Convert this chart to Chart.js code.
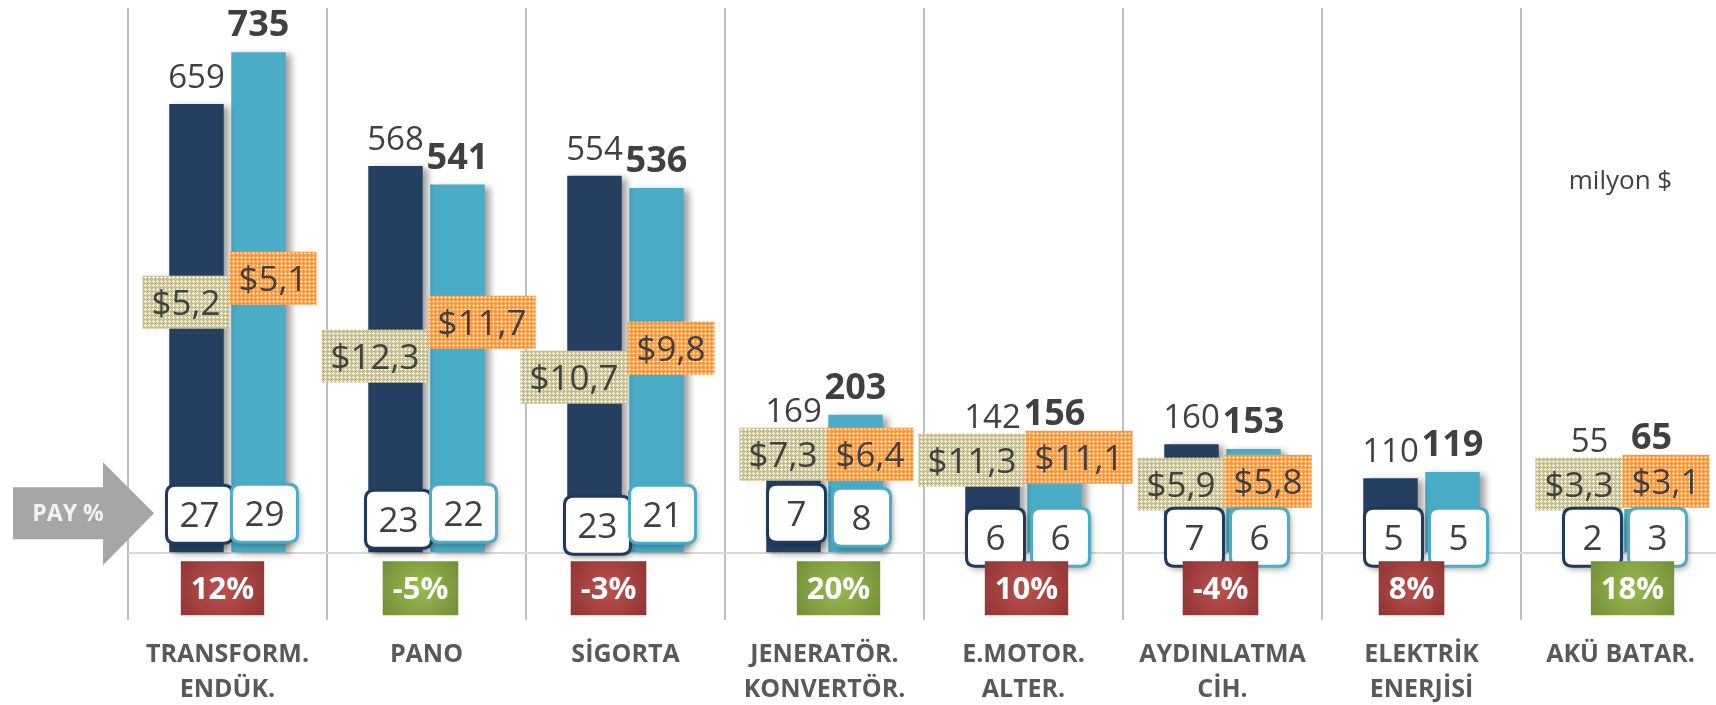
<!DOCTYPE html>
<html><head><meta charset="utf-8">
<script src="https://cdn.jsdelivr.net/npm/chart.js@4"></script>
<style>html,body{margin:0;padding:0;background:#fff;overflow:hidden}#wrap{position:relative;width:1720px;height:705px}</style>
</head><body><div id="wrap"><canvas id="c"></canvas></div>
<script>
// ---------- data ----------
const categories = [['TRANSFORM.','ENDÜK.'],'PANO','SİGORTA',['JENERATÖR.','KONVERTÖR.'],['E.MOTOR.','ALTER.'],['AYDINLATMA','CİH.'],['ELEKTRİK','ENERJİSİ'],'AKÜ BATAR.'];
const seriesNames = ['Önceki yıl','Son yıl'];
const salesPrev = [659,568,554,169,142,160,110,55];
const salesCurr = [735,541,536,203,156,153,119,65];
const pricePrev = [5.2,12.3,10.7,7.3,11.3,5.9,null,3.3];
const priceCurr = [5.1,11.7,9.8,6.4,11.1,5.8,null,3.1];
const sharePrev = [27,23,23,7,6,7,5,2];
const shareCurr = [29,22,21,8,6,6,5,3];
const growthPct = [12,-5,-3,20,10,-4,8,18];
const growthTone = ['red','green','red','green','red','red','red','green'];
const shareTitle = 'PAY %';
const unitLabel = 'milyon $';

// ---------- layout of annotation boxes (px, relative to the zero line) ----------
const priceLift = [[251,275],[197,231],[176,205],[99,99],[93,96],[69,72],[0,0],[69,72]];
const shareLift = [[39,40],[34,40],[28,39],[40,36],[16,16],[16,16],[16,16],[16,16]];
const growthShift = [-5,-6,-17,14,3,-2,-10,12];

const FONT = '"Open Sans", sans-serif';
const TXT = '#404040';
const C_DARK = '#253f60', C_LIGHT = '#4aacc6';

function makePattern(base){
  const c = document.createElement('canvas'); c.width = 4; c.height = 4;
  const g = c.getContext('2d');
  g.fillStyle = base; g.fillRect(0,0,4,4);
  g.fillStyle = 'rgba(255,255,255,0.8)';
  g.fillRect(1,0,1,1); g.fillRect(0,1,3,1); g.fillRect(1,2,1,1);
  return c;
}
const patTan = makePattern('#c4bd97');
const patOrange = makePattern('#f79646');

function rr(ctx,x,y,w,h,r){
  ctx.beginPath();
  ctx.moveTo(x+r,y); ctx.lineTo(x+w-r,y); ctx.quadraticCurveTo(x+w,y,x+w,y+r);
  ctx.lineTo(x+w,y+h-r); ctx.quadraticCurveTo(x+w,y+h,x+w-r,y+h);
  ctx.lineTo(x+r,y+h); ctx.quadraticCurveTo(x,y+h,x,y+h-r);
  ctx.lineTo(x,y+r); ctx.quadraticCurveTo(x,y,x+r,y); ctx.closePath();
}
const fmtPrice = v => '$' + v.toFixed(1).replace('.',',');

const annot = {
  id:'annot',
  beforeDatasetsDraw(chart){
    const ctx = chart.ctx; ctx.save();
    ctx.shadowColor='rgba(0,0,0,0.38)'; ctx.shadowBlur=7; ctx.shadowOffsetX=5; ctx.shadowOffsetY=2;
  },
  afterDatasetsDraw(chart){
    const ctx = chart.ctx; ctx.restore();
    const area = chart.chartArea;
    const y0 = chart.scales.y.getPixelForValue(0);
    const m0 = chart.getDatasetMeta(0).data, m1 = chart.getDatasetMeta(1).data;
    const prices = [pricePrev, priceCurr];
    const shares = [sharePrev, shareCurr];
    const metas = [m0, m1];
    const PH = 53;

    // price boxes geometry
    const pboxes = categories.map((c,j)=>{
      const cx = (m0[j].x + m1[j].x)/2 + 2;
      return [0,1].map(s=>{
        const v = prices[s][j]; if (v==null) return null;
        const t = fmtPrice(v);
        ctx.font = '35px ' + FONT;
        const w = ctx.measureText(t).width + 18;
        const cy = y0 - priceLift[j][s];
        return {t, w, x: s===0 ? cx - w : cx, y: cy - PH/2, cy};
      });
    });

    // value labels above bars
    ctx.textAlign='center'; ctx.textBaseline='alphabetic'; ctx.fillStyle=TXT;
    [salesPrev, salesCurr].forEach((arr,s)=>{
      ctx.font = (s===0 ? '33px ' : 'bold 36px ') + FONT;
      arr.forEach((v,j)=>{
        const b = metas[s][j];
        let by = b.y - 16;
        const bx = pboxes[j][s];
        if (bx) by = Math.min(by, bx.y - 6);
        ctx.fillText(String(v), b.x, by);
      });
    });

    // price boxes
    pboxes.forEach((pair)=>{
      pair.forEach((bx,s)=>{
        if (!bx) return;
        ctx.fillStyle = ctx.createPattern(s===0 ? patTan : patOrange, 'repeat');
        ctx.fillRect(bx.x, bx.y, bx.w, PH);
        ctx.fillStyle = TXT; ctx.font = '35px ' + FONT; ctx.textAlign='center'; ctx.textBaseline='alphabetic';
        ctx.fillText(bx.t, bx.x + bx.w/2, bx.cy + 0.357*35);
      });
    });

    // share boxes
    [0,1].forEach(s=>{
      shares[s].forEach((v,j)=>{
        const b = metas[s][j];
        const t = String(v);
        ctx.font = '35px ' + FONT;
        const w = Math.max(58, ctx.measureText(t).width + 26), h = 58;
        const cx = b.x + (s===0 ? 3 : 6), cy = y0 - shareLift[j][s];
        ctx.save();
        ctx.shadowColor='rgba(0,0,0,0.35)'; ctx.shadowBlur=6; ctx.shadowOffsetX=2; ctx.shadowOffsetY=3;
        rr(ctx, cx - w/2, cy - h/2, w, h, 9);
        ctx.fillStyle='#fff'; ctx.fill();
        ctx.restore();
        rr(ctx, cx - w/2, cy - h/2, w, h, 9);
        ctx.lineWidth = 3; ctx.strokeStyle = s===0 ? '#1f3a5f' : '#4bacc6'; ctx.stroke();
        ctx.fillStyle = TXT; ctx.textAlign='center'; ctx.textBaseline='alphabetic';
        ctx.fillText(t, cx, cy + 0.357*35);
      });
    });

    // growth boxes
    growthPct.forEach((v,j)=>{
      const t = v + '%';
      ctx.font = 'bold 31px ' + FONT;
      const w = ctx.measureText(t).width + 20, h = 54;
      const cx = (m0[j].x + m1[j].x)/2 + growthShift[j], top = y0 + 8;
      const g = ctx.createRadialGradient(cx, top + h/2, 2, cx, top + h/2, w*0.65);
      if (growthTone[j]==='red'){ g.addColorStop(0,'#b9504d'); g.addColorStop(1,'#8e3331'); }
      else { g.addColorStop(0,'#98b84f'); g.addColorStop(1,'#6f8b35'); }
      ctx.fillStyle = g; ctx.fillRect(cx - w/2, top, w, h);
      ctx.fillStyle='#fff'; ctx.textAlign='center'; ctx.textBaseline='alphabetic';
      ctx.fillText(t, cx, top + h/2 + 0.357*31);
    });

    // PAY % arrow
    const tip = area.left + 26, cy = y0 - 40;
    ctx.beginPath();
    ctx.moveTo(13, cy - 26); ctx.lineTo(tip - 51, cy - 26); ctx.lineTo(tip - 51, cy - 51);
    ctx.lineTo(tip, cy); ctx.lineTo(tip - 51, cy + 52); ctx.lineTo(tip - 51, cy + 26);
    ctx.lineTo(13, cy + 26); ctx.closePath();
    ctx.fillStyle = '#a6a6a6'; ctx.fill();
    ctx.font = 'bold 23px ' + FONT; ctx.fillStyle = '#f2f2f2'; ctx.textAlign='center';
    ctx.fillText(shareTitle, 68, cy + 0.357*23);

    // unit label
    ctx.font = '26px ' + FONT; ctx.fillStyle = TXT; ctx.textAlign='center';
    ctx.fillText(unitLabel, (m0[7].x + m1[7].x)/2, area.top + 181);
  }
};

new Chart(document.getElementById('c'), {
  type:'bar',
  data:{
    labels: categories,
    datasets:[
      {label: seriesNames[0], data: salesPrev, backgroundColor: C_DARK, borderWidth:0, categoryPercentage:0.623, barPercentage:0.879},
      {label: seriesNames[1], data: salesCurr, backgroundColor: C_LIGHT, borderWidth:0, categoryPercentage:0.623, barPercentage:0.879}
    ]
  },
  options:{
    responsive:true, maintainAspectRatio:false, animation:false,
    layout:{padding:{left:128, top:8, right:0, bottom:0}},
    plugins:{legend:{display:false}, tooltip:{enabled:false}},
    scales:{
      x:{
        grid:{color:'#bfbfbf', lineWidth:2, drawTicks:false, offset:true},
        border:{display:false},
        ticks:{color:'#595959', font:{family:'"Open Sans", sans-serif', size:25, weight:'bold', lineHeight:1.4}, padding:17, maxRotation:0, autoSkip:false},
        afterFit:(s)=>{ s.height = 85; }
      },
      y:{
        min:-98, max:800,
        ticks:{display:false},
        grid:{color:(c)=> c.tick && c.tick.value===0 ? '#d9d9d9' : 'rgba(0,0,0,0)', lineWidth:2, drawTicks:false},
        border:{display:false},
        afterBuildTicks:(s)=>{ s.ticks = [{value:0}]; },
        afterFit:(s)=>{ s.width = 0; }
      }
    }
  },
  plugins:[annot]
});
</script></body></html>
